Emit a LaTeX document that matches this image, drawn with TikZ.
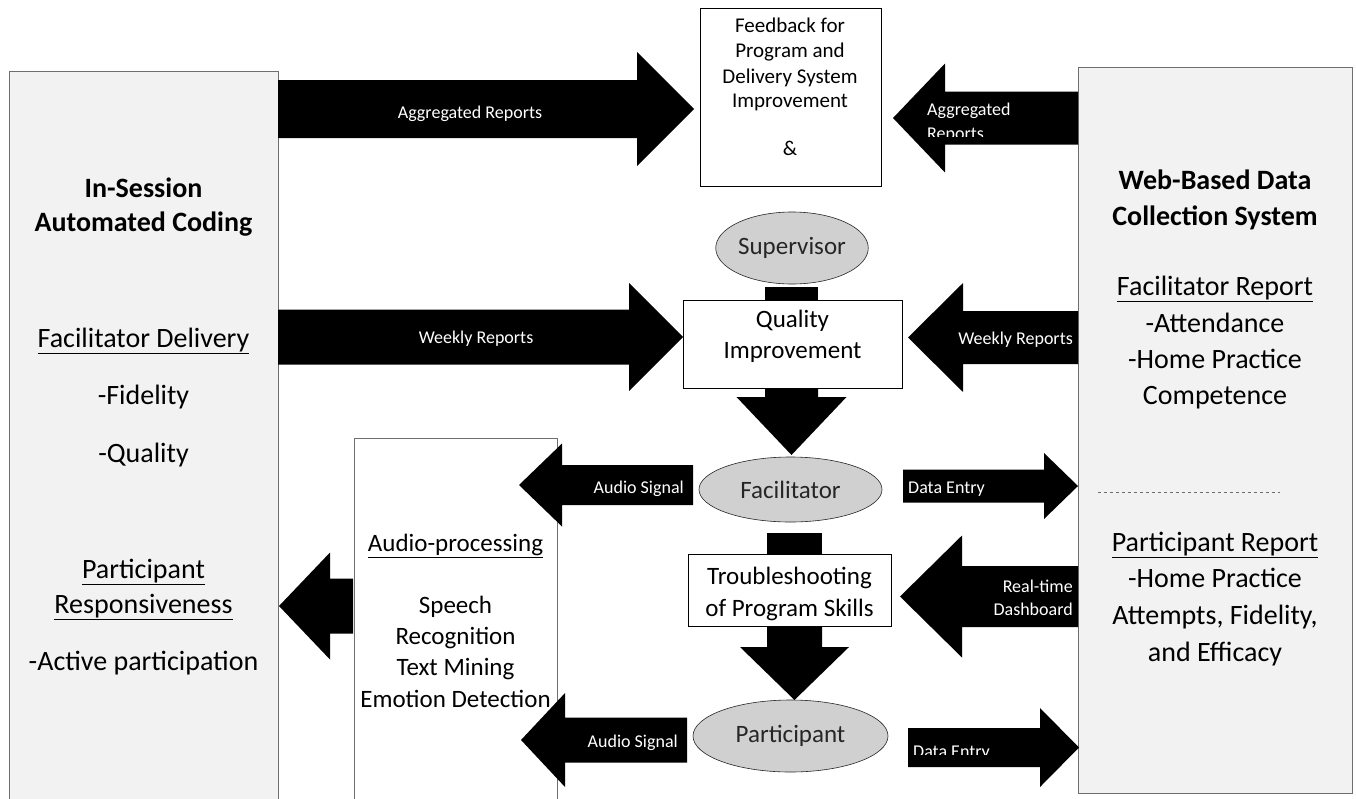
\documentclass[tikz,border=0pt]{standalone}
\usepackage{fontspec}
\setmainfont{Carlito}
\usetikzlibrary{shapes.geometric}
\definecolor{panelfill}{RGB}{242,242,242}
\definecolor{ovalfill}{RGB}{208,208,208}
\definecolor{panelline}{RGB}{110,110,110}
% horizontal block arrow: tail x, head-base x, tip x, centre y, shaft half, head half
\newcommand\hblock[6]{\fill[black] ({#1},{#4-#5}) -- ({#2},{#4-#5}) -- ({#2},{#4-#6}) -- ({#3},{#4}) -- ({#2},{#4+#6}) -- ({#2},{#4+#5}) -- ({#1},{#4+#5}) -- cycle;}
% vertical block arrow: centre x, tail y, head-base y, tip y, shaft half, head half
\newcommand\vblock[6]{\fill[black] ({#1-#5},{#2}) -- ({#1-#5},{#3}) -- ({#1-#6},{#3}) -- ({#1},{#4}) -- ({#1+#6},{#3}) -- ({#1+#5},{#3}) -- ({#1+#5},{#2}) -- cycle;}
\begin{document}
\begin{tikzpicture}[x=1pt,y=-1pt,
  panel/.style={draw=panelline, fill=panelfill, line width=1pt, inner sep=0pt, anchor=north west},
  whitebox/.style={draw=black, fill=white, line width=0.8pt, inner sep=0pt, anchor=north west},
  oval/.style={ellipse, draw=black!85, fill=ovalfill, line width=0.6pt, inner sep=0pt, text=black!85, font=\fontsize{25}{30}\selectfont},
  lbl/.style={text=white, font=\fontsize{18}{22}\selectfont, inner sep=0pt},
  big/.style={font=\fontsize{28}{34}\selectfont, inner sep=0pt, anchor=base},
  bigb/.style={font=\fontsize{28}{34}\selectfont\bfseries, inner sep=0pt, anchor=base},
  mid/.style={font=\fontsize{25}{30}\selectfont, inner sep=0pt, anchor=base},
  small/.style={font=\fontsize{21}{25}\selectfont, inner sep=0pt, anchor=base}]
\useasboundingbox (0,0) rectangle (1356,798);
\clip (0,0) rectangle (1356,798);
\fill[white] (0,0) rectangle (1356,798);

% panels and boxes
\node[panel, minimum width=269pt, minimum height=760pt] (left) at (9,71) {};
\node[panel, minimum width=274pt, minimum height=726pt] (right) at (1078,67) {};
\node[panel, fill=white, minimum width=203pt, minimum height=380pt] (audio) at (354,438) {};
\node[whitebox, minimum width=181pt, minimum height=178pt] (feed) at (700,8) {};
\node[whitebox, minimum width=219pt, minimum height=88pt] (qual) at (683,300) {};
\node[whitebox, minimum width=203pt, minimum height=72pt] (trbl) at (688,554) {};

% block arrows
\hblock{278}{637}{694}{109}{29}{57}
\hblock{1078}{945}{893}{118}{26.5}{54.5}
\hblock{278}{629}{683}{337}{27.5}{54}
\hblock{1078}{963}{908}{337.5}{26.5}{54.5}
\vblock{791.5}{388}{397}{455}{26.5}{55}
\fill[black] (765,287) rectangle (818,300);
\hblock{693}{562}{519}{485}{20}{41.5}
\hblock{903}{1044}{1078}{486}{16.5}{33}
\fill[black] (767,533) rectangle (822,554);
\vblock{794.5}{626}{647}{700}{27.5}{54.5}
\hblock{1078}{962}{900}{596.5}{30.5}{61}
\hblock{687}{565}{521}{740}{22.5}{47}
\hblock{908}{1040}{1079}{747.5}{19.5}{39.5}
\hblock{353}{330}{279}{606}{27.5}{53.5}

% ovals
\node[oval, minimum width=140pt, minimum height=72pt] (sup) at (792,248) {Supervisor};
\node[oval, minimum width=183pt, minimum height=65pt] (fac) at (790.5,489.5) {Facilitator};
\node[oval, minimum width=195pt, minimum height=72pt] (par) at (790.5,736) {Participant};

% dashed separator
\coordinate (d1) at (1098,492);
\coordinate (d2) at (1280,492);
\draw[dashed, panelline, line width=0.8pt] (d1) -- (d2);

% left panel text
\node[bigb] (l1) at (143.5,197) {In-Session};
\node[bigb] (l2) at (143.5,231) {Automated Coding};
\node[big] (l3) at (143.5,347) {\underline{Facilitator Delivery}};
\node[big] (l4) at (143.5,404) {-Fidelity};
\node[big] (l5) at (143.5,462) {-Quality};
\node[big] (l6) at (143.5,578) {\underline{Participant}};
\node[big] (l7) at (143.5,613) {\underline{Responsiveness}};
\node[big] (l8) at (143.5,670) {-Active participation};

% right panel text
\node[bigb] (r1) at (1215,189) {Web-Based Data};
\node[bigb] (r2) at (1215,225) {Collection System};
\node[big] (r3) at (1215,295) {\underline{Facilitator Report}};
\node[big] (r4) at (1215,332) {-Attendance};
\node[big] (r5) at (1215,368) {-Home Practice};
\node[big] (r6) at (1215,404) {Competence};
\node[big] (r7) at (1215,551) {\underline{Participant Report}};
\node[big] (r8) at (1215,587) {-Home Practice};
\node[big] (r9) at (1215,624) {Attempts, Fidelity,};
\node[big] (r10) at (1215,661) {and Efficacy};

% audio box text
\node[mid] (a1) at (455.5,551) {\underline{Audio-processing}};
\node[mid] (a2) at (455.5,613) {Speech};
\node[mid] (a3) at (455.5,644) {Recognition};
\node[mid] (a4) at (455.5,675) {Text Mining};
\node[mid] (a5) at (455.5,707) {Emotion Detection};

% centre boxes text
\node[small] (f1) at (790,32) {Feedback for};
\node[small] (f2) at (790,57) {Program and};
\node[small] (f3) at (790,83) {Delivery System};
\node[small] (f4) at (790,107) {Improvement};
\node[small] (f5) at (790,155) {\&};
\node[mid] (q1) at (792.5,327) {Quality};
\node[mid] (q2) at (792.5,358) {Improvement};
\node[mid] (t1) at (789.5,584) {Troubleshooting};
\node[mid] (t2) at (789.5,616) {of Program Skills};

% arrow labels
\node[lbl, anchor=base] (la1) at (470,118) {Aggregated Reports};
\begin{scope}
\clip (900,92) rectangle (1078,136);
\node[lbl, anchor=base west] (la2) at (927,115) {Aggregated};
\node[lbl, anchor=base west] (la3) at (927,139) {Reports};
\end{scope}
\node[lbl, anchor=base] (lw1) at (476,343) {Weekly Reports};
\node[lbl, anchor=base east] (lw2) at (1073,344) {Weekly Reports};
\node[lbl, anchor=base east] (las1) at (684,493) {Audio Signal};
\node[lbl, anchor=base west] (lde1) at (908,493) {Data Entry};
\node[lbl, anchor=base east] (lrt1) at (1073,592) {Real-time};
\node[lbl, anchor=base east] (lrt2) at (1073,615) {Dashboard};
\node[lbl, anchor=base east] (las2) at (678,747) {Audio Signal};
\begin{scope}
\clip (905,728) rectangle (1040,754);
\node[lbl, anchor=base west] (lde2) at (913,757) {Data Entry};
\end{scope}
\end{tikzpicture}
\end{document}
